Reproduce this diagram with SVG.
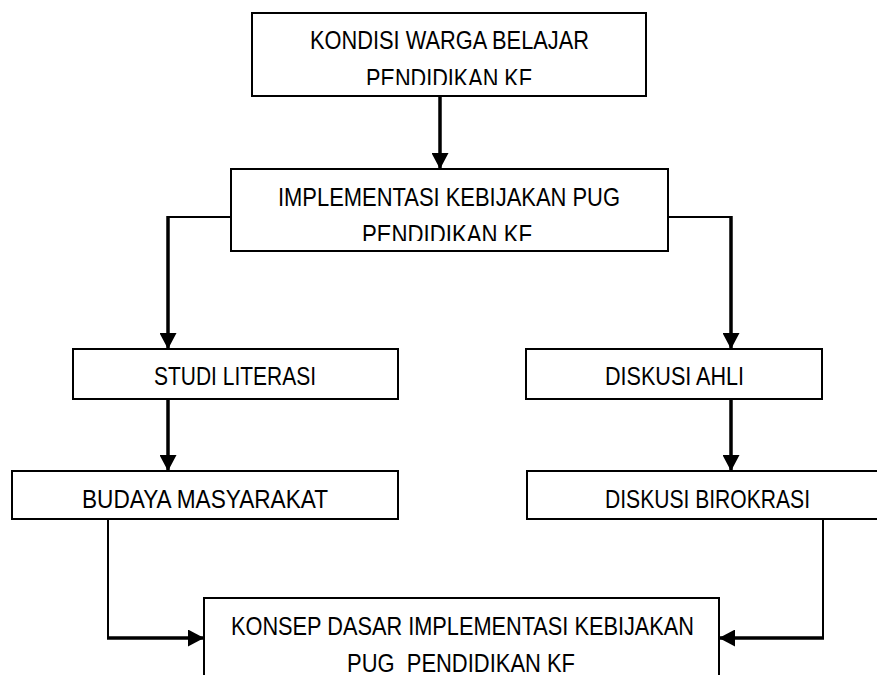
<svg xmlns="http://www.w3.org/2000/svg" width="877" height="675" viewBox="0 0 877 675">
<style>
.box{fill:#fff;stroke:#000;stroke-width:2}
.t{font-family:"Liberation Sans",Arial,sans-serif;font-size:26px;fill:#000}
.thick{fill:none;stroke:#000;stroke-width:3.5}
.thin{fill:none;stroke:#000;stroke-width:2}
</style>
<defs>
<marker id="ah" markerUnits="userSpaceOnUse" viewBox="0 0 16 17" refX="16" refY="8.5" markerWidth="16" markerHeight="17" orient="auto">
<path d="M0,0 L16,8.5 L0,17 z" fill="#000"/>
</marker>
<clipPath id="c1"><rect x="252" y="13" width="394" height="72"/></clipPath>
<clipPath id="c2"><rect x="231" y="169" width="437" height="72"/></clipPath>
</defs>
<g id="connectors">
<path class="thick" d="M440,96 V169" marker-end="url(#ah)"/>
<path class="thin" d="M231,217 H168"/>
<path class="thick" d="M168,216 V349" marker-end="url(#ah)"/>
<path class="thin" d="M668,217 H731"/>
<path class="thick" d="M731,216 V349" marker-end="url(#ah)"/>
<path class="thick" d="M168,399 V471" marker-end="url(#ah)"/>
<path class="thick" d="M731,399 V471" marker-end="url(#ah)"/>
<path class="thin" d="M108,519 V638"/>
<path class="thick" d="M107,638 H204" marker-end="url(#ah)"/>
<path class="thin" d="M823,519 V638"/>
<path class="thick" d="M824,638 H719" marker-end="url(#ah)"/>
</g>
<g id="kondisi">
<rect class="box" x="252" y="13" width="394" height="83"/>
<g clip-path="url(#c1)">
<text class="t" x="310" y="49" textLength="279" lengthAdjust="spacingAndGlyphs">KONDISI WARGA BELAJAR</text>
<text class="t" x="366" y="87" textLength="166" lengthAdjust="spacingAndGlyphs">PENDIDIKAN KF</text>
</g>
</g>
<g id="implementasi">
<rect class="box" x="231" y="169" width="437" height="82"/>
<g clip-path="url(#c2)">
<text class="t" x="278" y="206" textLength="342" lengthAdjust="spacingAndGlyphs">IMPLEMENTASI KEBIJAKAN PUG</text>
<text class="t" x="362" y="243" textLength="170" lengthAdjust="spacingAndGlyphs">PENDIDIKAN KF</text>
</g>
</g>
<g id="studi">
<rect class="box" x="73" y="349" width="325" height="50"/>
<text class="t" x="154" y="385" textLength="162" lengthAdjust="spacingAndGlyphs">STUDI LITERASI</text>
</g>
<g id="ahli">
<rect class="box" x="526" y="349" width="296" height="50"/>
<text class="t" x="605" y="385" textLength="139" lengthAdjust="spacingAndGlyphs">DISKUSI AHLI</text>
</g>
<g id="budaya">
<rect class="box" x="12" y="471" width="386" height="48"/>
<text class="t" x="82" y="508" textLength="246" lengthAdjust="spacingAndGlyphs">BUDAYA MASYARAKAT</text>
</g>
<g id="birokrasi">
<rect class="box" x="527" y="471" width="365" height="48"/>
<text class="t" x="605" y="508" textLength="205" lengthAdjust="spacingAndGlyphs">DISKUSI BIROKRASI</text>
</g>
<g id="konsep">
<rect class="box" x="204" y="598" width="515" height="90"/>
<text class="t" x="231" y="635" textLength="463" lengthAdjust="spacingAndGlyphs">KONSEP DASAR IMPLEMENTASI KEBIJAKAN</text>
<text class="t" x="347" y="672" textLength="228" lengthAdjust="spacingAndGlyphs" xml:space="preserve">PUG  PENDIDIKAN KF</text>
</g>
</svg>
